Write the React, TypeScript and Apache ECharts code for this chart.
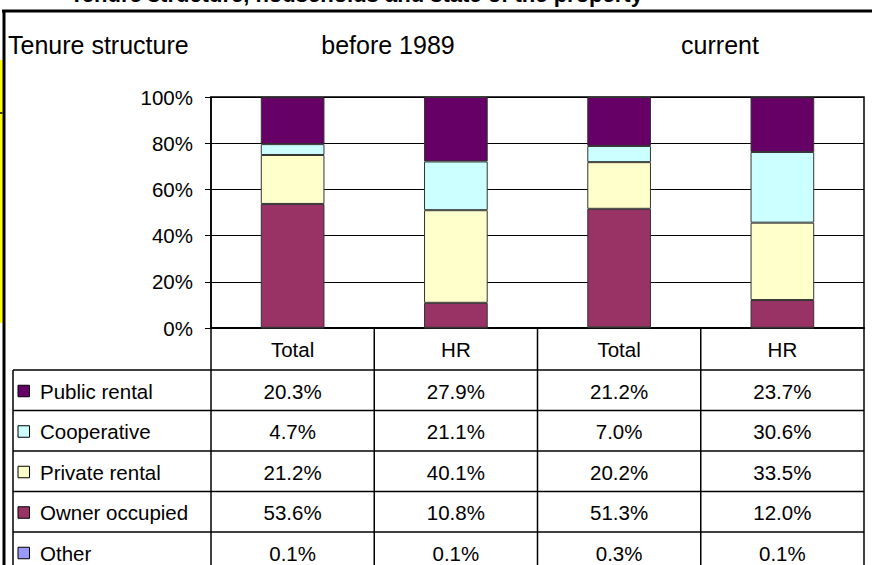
import React, { useEffect, useRef } from "react";
import * as echarts from "echarts";

const chartTitle = "Tenure structure, households and state of the property";
const cornerLabel = "Tenure structure";
const periodLabels = ["before 1989", "current"];
const categories = ["Total", "HR", "Total", "HR"];
const seriesNames = ["Public rental", "Cooperative", "Private rental", "Owner occupied", "Other"];
const publicRental = [20.3, 27.9, 21.2, 23.7];
const cooperative = [4.7, 21.1, 7.0, 30.6];
const privateRental = [21.2, 40.1, 20.2, 33.5];
const ownerOccupied = [53.6, 10.8, 51.3, 12.0];
const other = [0.1, 0.1, 0.3, 0.1];
const seriesColors = ["#660066", "#CCFFFF", "#FFFFCC", "#993366", "#9999FF"];

const FF = "Arial, 'Liberation Sans', Helvetica, sans-serif";

export default function App() {
  const ref = useRef<HTMLDivElement>(null);
  useEffect(() => {
    document.body.style.margin = "0";
    if (!ref.current) return;
    const chart = echarts.init(ref.current, undefined, { renderer: "svg" });

    const rowsData = [publicRental, cooperative, privateRental, ownerOccupied, other];

    // layout
    const plotL = 211, plotR = 864, plotT = 97, plotB = 328;
    const colW = (plotR - plotL) / categories.length;
    const headB = 370;
    const rowH = 40.5;
    const tableL = 13;
    const H = 565;

    const graphics: any[] = [];
    const line = (x1: number, y1: number, x2: number, y2: number, w = 1.5, c = "#000") =>
      graphics.push({ type: "line", shape: { x1, y1, x2, y2 }, style: { stroke: c, lineWidth: w }, silent: true });

    // title (cut off at top, as in the reference)
    graphics.push({
      type: "text", x: 70, y: 5,
      style: { text: chartTitle, font: `bold 22px ${FF}`, fill: "#000", textAlign: "left", textVerticalAlign: "bottom" },
    });
    // outer frame
    graphics.push({ type: "rect", shape: { x: 0, y: 60, width: 2.5, height: 263 }, style: { fill: "#FFFF00" } });
    line(0, 113, 2.5, 113, 1.5);
    line(2, 11, 872, 11, 3);
    line(4, 10, 4, H, 3);

    // header texts
    graphics.push({ type: "text", x: 8, y: 45, style: { text: cornerLabel, font: `25px ${FF}`, fill: "#000", textAlign: "left", textVerticalAlign: "middle" } });
    const periodCenters = [388, 720];
    periodLabels.forEach((p, i) => {
      graphics.push({ type: "text", x: periodCenters[i], y: 45, style: { text: p, font: `25px ${FF}`, fill: "#000", textAlign: "center", textVerticalAlign: "middle" } });
    });

    // table lines
    for (let i = 0; i <= categories.length; i++) {
      const x = plotL + i * colW;
      line(x, plotB, x, H, 1.5);
    }
    line(tableL, headB, tableL, H, 1.5);
    for (let r = 0; r < rowsData.length; r++) {
      const y = headB + r * rowH;
      line(tableL, y, plotR, y, 1.5);
    }

    // legend + values
    seriesNames.forEach((name, r) => {
      const cy = headB + r * rowH + rowH / 2 + 1;
      graphics.push({ type: "rect", shape: { x: 18, y: cy - 6, width: 11.5, height: 11.5 }, style: { fill: seriesColors[r], stroke: "#000", lineWidth: 1 } });
      graphics.push({ type: "text", x: 40, y: cy, style: { text: name, font: `20.5px ${FF}`, fill: "#000", textAlign: "left", textVerticalAlign: "middle" } });
      rowsData[r].forEach((v, c) => {
        graphics.push({
          type: "text", x: plotL + (c + 0.5) * colW, y: cy,
          style: { text: `${v.toFixed(1)}%`, font: `20.5px ${FF}`, fill: "#000", textAlign: "center", textVerticalAlign: "middle" },
        });
      });
    });

    // stack bottom-up: Other, Owner occupied, Private rental, Cooperative, Public rental
    const order = [4, 3, 2, 1, 0];
    const series = order.map((idx) => ({
      name: seriesNames[idx],
      type: "bar",
      stack: "tenure",
      data: rowsData[idx],
      barWidth: "39%",
      itemStyle: { color: seriesColors[idx], borderColor: "#333", borderWidth: 1 },
      emphasis: { disabled: true },
    }));

    chart.setOption({
      animation: false,
      backgroundColor: "#fff",
      grid: {
        left: plotL, top: plotT, width: plotR - plotL, height: plotB - plotT,
        show: true, borderColor: "#000", borderWidth: 1.5, backgroundColor: "transparent",
      },
      xAxis: {
        type: "category",
        data: categories,
        axisLine: { show: true, lineStyle: { color: "#000", width: 2 } },
        axisTick: { show: false },
        axisLabel: { color: "#000", fontSize: 20.5, fontFamily: FF, margin: 11, interval: 0 },
      },
      yAxis: {
        type: "value",
        min: 0, max: 100, interval: 20,
        axisLine: { show: true, lineStyle: { color: "#000", width: 1.5 } },
        axisTick: { show: true, length: 6, lineStyle: { color: "#000", width: 1 } },
        splitLine: { show: true, lineStyle: { color: "#000", width: 1 } },
        axisLabel: { formatter: "{value}%", color: "#000", fontSize: 20.5, fontFamily: FF, margin: 18 },
      },
      series,
      graphic: { elements: graphics },
    });
    return () => chart.dispose();
  }, []);
  return <div ref={ref} style={{ width: 872, height: 565 }} />;
}
